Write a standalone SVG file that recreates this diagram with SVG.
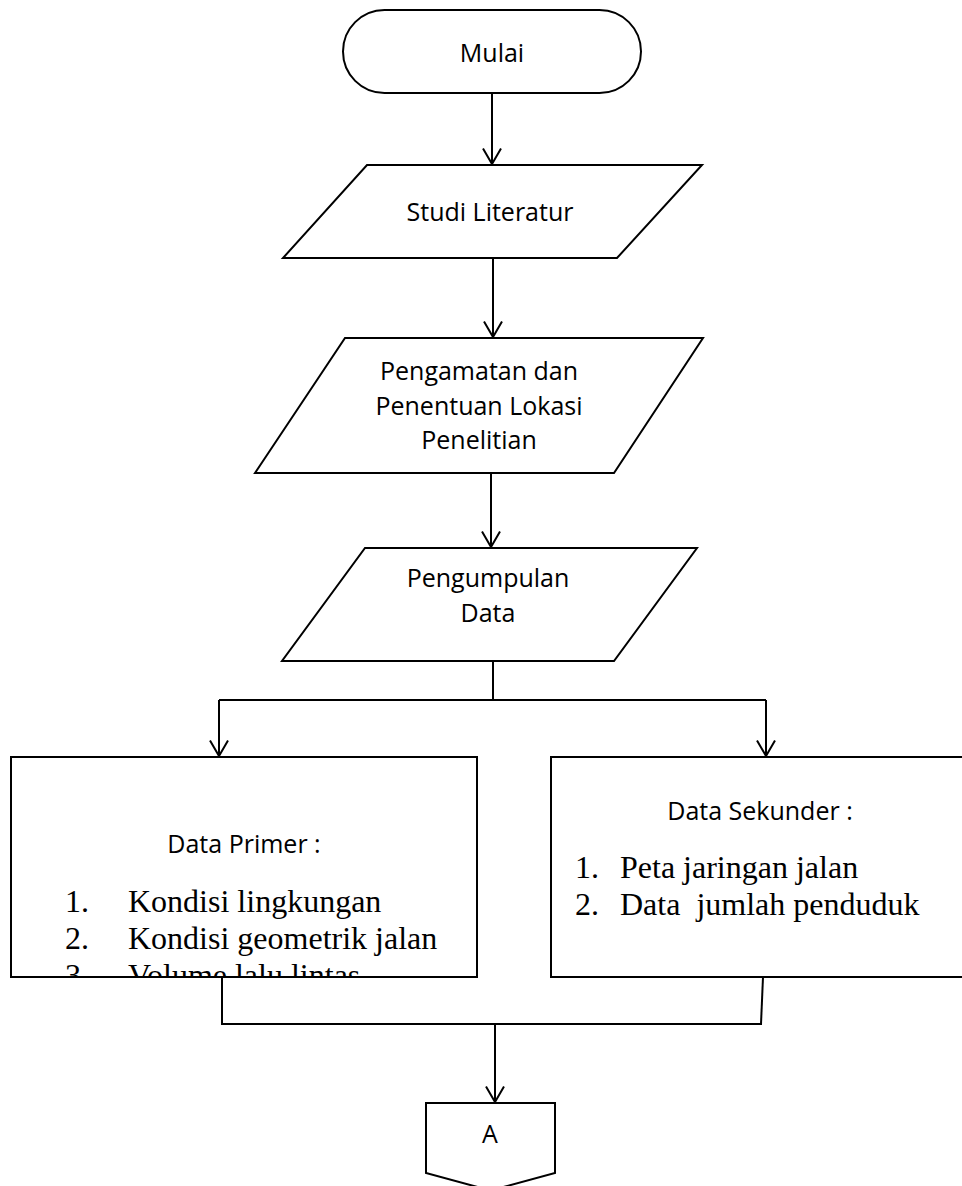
<svg xmlns="http://www.w3.org/2000/svg" width="962" height="1186" viewBox="0 0 962 1186">
<style>
.shape{fill:#fff;stroke:#000;stroke-width:2}
.ln{fill:none;stroke:#000;stroke-width:2}
.s{font-family:"Open Sans","Noto Sans","Liberation Sans",sans-serif;font-size:25px;fill:#000}
.t{font-family:"Liberation Serif","Times New Roman",serif;font-size:32px;fill:#000}
</style>
<defs>
<marker id="arr" markerUnits="userSpaceOnUse" markerWidth="24" markerHeight="24" viewBox="-18 -12 20 24" refX="0" refY="0" orient="auto">
<path d="M-15.5,-9 L0,0 L-15.5,9" fill="none" stroke="#000" stroke-width="2"/>
</marker>
<clipPath id="clipL"><rect x="11" y="757" width="466" height="220"/></clipPath>
</defs>
<rect width="962" height="1186" fill="#fff"/>
<g id="connectors">
<line class="ln" x1="492" y1="93" x2="492" y2="164" marker-end="url(#arr)"/>
<line class="ln" x1="493" y1="258" x2="493" y2="337" marker-end="url(#arr)"/>
<line class="ln" x1="491" y1="473" x2="491" y2="547" marker-end="url(#arr)"/>
<line class="ln" x1="493" y1="661" x2="493" y2="700"/>
<line class="ln" x1="219" y1="700" x2="766" y2="700"/>
<line class="ln" x1="219" y1="700" x2="219" y2="756" marker-end="url(#arr)"/>
<line class="ln" x1="766" y1="700" x2="766" y2="756" marker-end="url(#arr)"/>
<line class="ln" x1="222" y1="977" x2="222" y2="1024"/>
<line class="ln" x1="763" y1="977" x2="761" y2="1024"/>
<line class="ln" x1="221" y1="1024" x2="762" y2="1024"/>
<line class="ln" x1="495" y1="1024" x2="495" y2="1102" marker-end="url(#arr)"/>
</g>
<g id="mulai">
<rect class="shape" x="343" y="10" width="298" height="83" rx="41.5" ry="41.5"/>
<text class="s" x="492" y="62" text-anchor="middle">Mulai</text>
</g>
<g id="studi">
<polygon class="shape" points="367,165 702,165 617,258 283,258"/>
<text class="s" x="490" y="221" text-anchor="middle">Studi Literatur</text>
</g>
<g id="pengamatan">
<polygon class="shape" points="345,338 703,338 614,473 255,473"/>
<text class="s" x="479" y="380" text-anchor="middle">Pengamatan dan</text>
<text class="s" x="479" y="415" text-anchor="middle">Penentuan Lokasi</text>
<text class="s" x="479" y="449" text-anchor="middle">Penelitian</text>
</g>
<g id="pengumpulan">
<polygon class="shape" points="365,548 697,548 614,661 282,661"/>
<text class="s" x="488" y="587" text-anchor="middle">Pengumpulan</text>
<text class="s" x="488" y="622" text-anchor="middle">Data</text>
</g>
<g id="data-primer">
<rect class="shape" x="11" y="757" width="466" height="220"/>
<g clip-path="url(#clipL)">
<text class="s" x="244" y="853" text-anchor="middle">Data Primer :</text>
<text class="t" x="65" y="912">1.</text>
<text class="t" x="128" y="912">Kondisi lingkungan</text>
<text class="t" x="65" y="949">2.</text>
<text class="t" x="128" y="949">Kondisi geometrik jalan</text>
<text class="t" x="65" y="986">3.</text>
<text class="t" x="128" y="986">Volume lalu lintas</text>
</g>
</g>
<g id="data-sekunder">
<rect class="shape" x="551" y="757" width="430" height="220"/>
<text class="s" x="760" y="820" text-anchor="middle">Data Sekunder :</text>
<text class="t" x="575" y="878">1.</text>
<text class="t" x="620" y="878">Peta jaringan jalan</text>
<text class="t" x="575" y="915">2.</text>
<text class="t" x="620" y="915" xml:space="preserve">Data  jumlah penduduk</text>
</g>
<g id="connector-a">
<polygon class="shape" points="426,1103 555,1103 555,1173 490.5,1190.5 426,1173"/>
<text class="s" x="490" y="1143" text-anchor="middle">A</text>
</g>
</svg>
